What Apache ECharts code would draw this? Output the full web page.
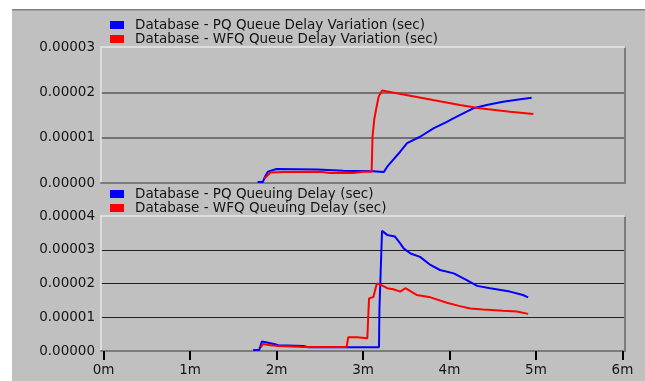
<!DOCTYPE html>
<html><head><meta charset="utf-8">
<script src="https://cdn.jsdelivr.net/npm/echarts@6/dist/echarts.min.js"></script>
<style>html,body{margin:0;padding:0;background:#fff}#c{width:645px;height:381px}</style>
</head><body><div id="c"></div>
<script>
// ---- data (x in minutes, y in seconds) ----
const tickMinutes = [0, 1, 2, 3, 4, 5, 6];
const topYTicks = [0, 0.00001, 0.00002, 0.00003];
const bottomYTicks = [0, 0.00001, 0.00002, 0.00003, 0.00004];

const pqVarName = 'Database - PQ Queue Delay Variation (sec)';
const wfqVarName = 'Database - WFQ Queue Delay Variation (sec)';
const pqQName = 'Database - PQ Queuing Delay (sec)';
const wfqQName = 'Database - WFQ Queuing Delay (sec)';

const pqVarMin = [1.78, 1.84, 1.87, 1.90, 2.00, 2.47, 2.77, 3.12, 3.24, 3.28, 3.43, 3.51, 3.66, 3.82, 3.97, 4.05, 4.28, 4.43, 4.62, 4.80, 4.95];
const pqVarVal = [0.02e-5, 0.02e-5, 0.15e-5, 0.25e-5, 0.31e-5, 0.30e-5, 0.27e-5, 0.26e-5, 0.24e-5, 0.36e-5, 0.69e-5, 0.88e-5, 1.02e-5, 1.21e-5, 1.35e-5, 1.43e-5, 1.65e-5, 1.72e-5, 1.79e-5, 1.84e-5, 1.88e-5];

const wfqVarMin = [1.86, 1.93, 2.10, 2.50, 2.62, 2.89, 3.00, 3.10, 3.11, 3.13, 3.15, 3.18, 3.22, 3.28, 3.39, 3.81, 4.12, 4.35, 4.70, 4.97];
const wfqVarVal = [0.10e-5, 0.23e-5, 0.24e-5, 0.25e-5, 0.22e-5, 0.22e-5, 0.25e-5, 0.25e-5, 1.02e-5, 1.40e-5, 1.61e-5, 1.90e-5, 2.04e-5, 2.02e-5, 1.98e-5, 1.83e-5, 1.72e-5, 1.65e-5, 1.57e-5, 1.52e-5];

const pqQMin = [1.73, 1.80, 1.83, 1.89, 1.97, 2.02, 2.31, 2.37, 3.185, 3.19, 3.20, 3.205, 3.215, 3.22, 3.28, 3.37, 3.43, 3.47, 3.55, 3.66, 3.78, 3.89, 4.05, 4.20, 4.32, 4.47, 4.70, 4.85, 4.91];
const pqQVal = [0.03e-5, 0.03e-5, 0.28e-5, 0.25e-5, 0.21e-5, 0.17e-5, 0.15e-5, 0.11e-5, 0.11e-5, 1.25e-5, 1.30e-5, 2.40e-5, 2.45e-5, 3.56e-5, 3.44e-5, 3.39e-5, 3.19e-5, 3.04e-5, 2.89e-5, 2.79e-5, 2.55e-5, 2.40e-5, 2.30e-5, 2.10e-5, 1.93e-5, 1.86e-5, 1.76e-5, 1.66e-5, 1.59e-5];

const wfqQMin = [1.82, 1.84, 1.93, 2.02, 2.31, 2.81, 2.83, 2.93, 3.05, 3.06, 3.07, 3.12, 3.16, 3.20, 3.28, 3.35, 3.43, 3.49, 3.62, 3.78, 3.97, 4.12, 4.24, 4.39, 4.62, 4.78, 4.91];
const wfqQVal = [0.10e-5, 0.21e-5, 0.17e-5, 0.15e-5, 0.12e-5, 0.12e-5, 0.41e-5, 0.41e-5, 0.38e-5, 0.97e-5, 1.56e-5, 1.60e-5, 2.00e-5, 1.97e-5, 1.86e-5, 1.83e-5, 1.76e-5, 1.86e-5, 1.66e-5, 1.59e-5, 1.43e-5, 1.33e-5, 1.26e-5, 1.23e-5, 1.19e-5, 1.17e-5, 1.10e-5];

// ---- chart ----
const FONT = 'DejaVu Sans';
const FS = 13.5;
const TXT = '#141414';
const LIGHT = '#e6e6e6';
const DARK = '#7c7c7c';
const pairs = (xs, ys) => xs.map((x, i) => [x, ys[i]]);
const chart = echarts.init(document.getElementById('c'));

function xBottom(gi, withTicks) {
  return {
    type: 'value', gridIndex: gi, position: 'bottom', min: -0.03, max: 6.03,
    axisLine: { show: true, onZero: false, lineStyle: { color: DARK, width: 2 } },
    axisTick: { show: withTicks, customValues: tickMinutes, length: 9, lineStyle: { color: '#000', width: 2 } },
    axisLabel: { show: withTicks, customValues: tickMinutes, formatter: v => v + 'm', margin: 12,
      fontFamily: FONT, fontSize: FS, color: TXT },
    splitLine: { show: false }
  };
}
function xTop(gi) {
  return {
    type: 'value', gridIndex: gi, position: 'top', min: -0.03, max: 6.03,
    axisLine: { show: true, onZero: false, lineStyle: { color: LIGHT, width: 1.5 } },
    axisTick: { show: false }, axisLabel: { show: false }, splitLine: { show: false }
  };
}
function yLeft(gi, ticks, lineColor, lineWidth) {
  return {
    type: 'value', gridIndex: gi, position: 'left', min: ticks[0], max: ticks[ticks.length - 1], interval: ticks[1] - ticks[0],
    axisLine: { show: true, onZero: false, lineStyle: { color: LIGHT, width: 1.5 } },
    axisTick: { show: false },
    axisLabel: { margin: 6, formatter: v => v.toFixed(5), fontFamily: FONT, fontSize: FS, color: TXT },
    splitLine: { show: true, showMinLine: false, showMaxLine: false, lineStyle: { color: lineColor, width: lineWidth } }
  };
}
function yRight(gi) {
  return {
    type: 'value', gridIndex: gi, position: 'right',
    axisLine: { show: true, onZero: false, lineStyle: { color: DARK, width: 2 } },
    axisTick: { show: false }, axisLabel: { show: false }, splitLine: { show: false }
  };
}
function legend(names, top) {
  return {
    data: names, orient: 'vertical', left: 110, top: top, icon: 'rect', padding: 0,
    itemWidth: 14, itemHeight: 8, itemGap: 0, selectedMode: false,
    textStyle: { fontFamily: FONT, fontSize: FS, color: TXT, lineHeight: 12.8, padding: [0, 0, 0, 6] }
  };
}
function line(name, xi, yi, data, color) {
  return {
    type: 'line', name: name, xAxisIndex: xi, yAxisIndex: yi, data: data,
    showSymbol: false, symbol: 'none', color: color, animation: false,
    lineStyle: { color: color, width: 2 }
  };
}

chart.setOption({
  animation: false,
  backgroundColor: '#c0c0c0',
  graphic: [
    { type: 'rect', shape: { x: 0, y: 0, width: 12, height: 381 }, style: { fill: '#fff' }, silent: true },
    { type: 'rect', shape: { x: 0, y: 0, width: 645, height: 9 }, style: { fill: '#fff' }, silent: true },
    { type: 'rect', shape: { x: 12, y: 9, width: 633, height: 1.5 }, style: { fill: '#808080' }, silent: true }
  ],
  grid: [
    { left: 101, right: 20, top: 47, height: 136 },
    { left: 101, right: 20, top: 216, height: 135 }
  ],
  legend: [legend([pqVarName, wfqVarName], 18), legend([pqQName, wfqQName], 187)],
  xAxis: [xBottom(0, false), xTop(0), xBottom(1, true), xTop(1)],
  yAxis: [yLeft(0, topYTicks, '#585858', 1.5), yRight(0), yLeft(1, bottomYTicks, '#202020', 1.2), yRight(1)],
  series: [
    line(pqVarName, 0, 0, pairs(pqVarMin, pqVarVal), '#0000ff'),
    line(wfqVarName, 0, 0, pairs(wfqVarMin, wfqVarVal), '#ff0000'),
    line(pqQName, 2, 2, pairs(pqQMin, pqQVal), '#0000ff'),
    line(wfqQName, 2, 2, pairs(wfqQMin, wfqQVal), '#ff0000')
  ]
});
</script>
</body></html>
